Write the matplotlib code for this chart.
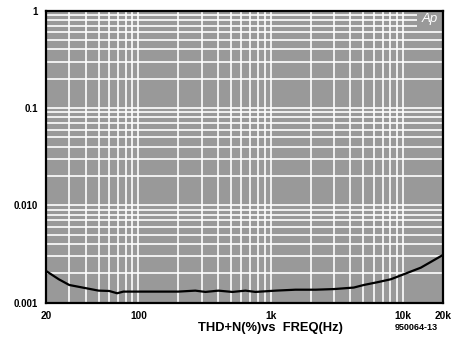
import numpy as np
import matplotlib
matplotlib.use("Agg")
import matplotlib.pyplot as plt
from matplotlib.patches import Rectangle
from matplotlib.ticker import FixedLocator, NullFormatter

plt.rcParams['font.family'] = ['Liberation Sans Narrow', 'Liberation Sans', 'DejaVu Sans']

# THD+N curve
freq = [20, 25, 30, 35, 40, 50, 60, 69, 77, 100, 150, 200, 269, 321, 402, 513, 644, 766,
        1087, 1539, 2183, 3000, 4236, 5045, 6500, 8075, 10134, 13620, 20000]
thd = [0.00212, 0.00174, 0.00152, 0.00146, 0.00141, 0.00133, 0.00132, 0.00125, 0.0013,
       0.0013, 0.0013, 0.0013, 0.00133, 0.00129, 0.00133, 0.00129, 0.00133, 0.00129,
       0.00133, 0.00136, 0.00136, 0.00138, 0.00143, 0.00152, 0.00163, 0.00174,
       0.00196, 0.00229, 0.00309]

xticks = [20, 100, 1000, 10000, 20000]
xticklabels = ['20', '100', '1k', '10k', '20k']
yticks = [0.001, 0.01, 0.1, 1]
yticklabels = ['0.001', '0.010', '0.1', '1']

fig = plt.figure(figsize=(4.58, 3.43), dpi=100)
ax = fig.add_axes([0.1004, 0.1175, 0.8666, 0.8515])
ax.set_facecolor('#999999')
ax.set_xscale('log')
ax.set_yscale('log')
ax.set_xlim(20, 20000)
ax.set_ylim(0.001, 1)

# grid at every 1..9 of each decade
xgrid = [m * 10 ** e for e in range(1, 5) for m in range(1, 10) if 20 < m * 10 ** e < 20000]
ygrid = [m * 10 ** e for e in range(-3, 0) for m in range(1, 10) if 0.001 < m * 10 ** e < 1]
for x in xgrid:
    ax.axvline(x, color='white', lw=1.2, zorder=1)
for y in ygrid:
    ax.axhline(y, color='white', lw=1.2, zorder=1)

ax.plot(freq, thd, color='black', lw=1.6, zorder=3)

ax.xaxis.set_major_locator(FixedLocator(xticks))
ax.xaxis.set_minor_locator(FixedLocator([]))
ax.yaxis.set_major_locator(FixedLocator(yticks))
ax.yaxis.set_minor_locator(FixedLocator([]))
ax.xaxis.set_minor_formatter(NullFormatter())
ax.yaxis.set_minor_formatter(NullFormatter())
ax.set_xticklabels(xticklabels, fontsize=7.3, fontweight='bold')
ax.set_yticklabels(yticklabels, fontsize=7, fontweight='bold')
ax.tick_params(length=0)
ax.tick_params(axis='y', pad=6)
ax.tick_params(axis='x', pad=6)

for s in ax.spines.values():
    s.set_linewidth(1.6)
    s.set_zorder(4)

# Audio Precision logo box
ax.add_patch(Rectangle((0.934, 0.944), 0.066, 0.056, transform=ax.transAxes,
                       facecolor='#999999', edgecolor='none', zorder=2))
ax.text(0.967, 0.97, 'Ap', transform=ax.transAxes, ha='center', va='center',
        color='white', fontsize=9.5, style='italic', zorder=5,
        family=['Liberation Sans', 'DejaVu Sans'])

fig.text(0.59, 0.045, 'THD+N(%)vs  FREQ(Hz)', ha='center', va='center',
         fontsize=9.3, fontweight='bold')
fig.text(0.908, 0.044, '950064-13', ha='center', va='center',
         fontsize=6.5, fontweight='bold')

fig.savefig('out.png', dpi=100)
